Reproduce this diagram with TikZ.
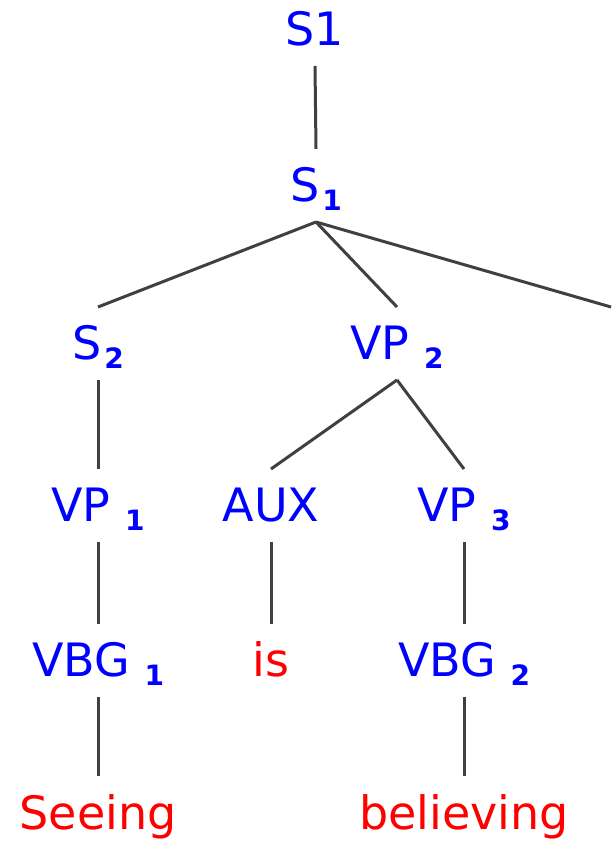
\documentclass[tikz,border=0pt]{standalone}
\usepackage{fontspec}
\setmainfont{DejaVu Sans}
\usepackage{tikz}

\newcommand{\idx}[1]{\raisebox{-9pt}{\fontsize{28}{30}\selectfont\bfseries #1}}

\begin{document}
\begin{tikzpicture}[x=1pt,y=1pt,
  cat/.style={text=catColor,anchor=base,inner sep=0pt,outer sep=20pt,
    text height=33pt,text depth=0pt,font=\fontsize{46}{50}\selectfont},
  word/.style={cat,text=wordColor},
  branch/.style={draw=drawColor,line width=3pt}]
\definecolor{catColor}{rgb}{0.00,0.00,1.00}
\definecolor{wordColor}{rgb}{1.00,0.00,0.00}
\definecolor{drawColor}{rgb}{0.25,0.25,0.25}
\path[use as bounding box] (0,0) rectangle (611,841);

\node[cat] (S1top) at (315,795) {S1};
\node[cat] (S1) at (316,639) {S\kern3pt\idx{1}};

\node[cat] (S2) at (98,481) {S\kern3pt\idx{2}};
\node[cat] (VP2) at (397,481) {VP \idx{2}};
\coordinate (rest) at (611,534);

\node[cat] (VP1) at (98,319) {VP \idx{1}};
\node[cat] (AUX) at (271,319) {AUX};
\node[cat] (VP3) at (464,319) {VP \idx{3}};

\node[cat] (VBG1) at (98,164) {VBG \idx{1}};
\node[word] (is) at (271,164) {is};
\node[cat] (VBG2) at (464,164) {VBG \idx{2}};

\node[word] (Seeing) at (98,12) {Seeing};
\node[word] (believing) at (464,12) {believing};

\draw[branch] (S1top.south) -- (S1.north);
\draw[branch] (S1.south) -- (S2.north);
\draw[branch] (S1.south) -- (VP2.north);
\draw[branch] (S1.south) -- (rest);
\draw[branch] (S2.south) -- (VP1.north);
\draw[branch] (VP2.south) -- (AUX.north);
\draw[branch] (VP2.south) -- (VP3.north);
\draw[branch] (VP1.south) -- (VBG1.north);
\draw[branch] (AUX.south) -- (is.north);
\draw[branch] (VP3.south) -- (VBG2.north);
\draw[branch] (VBG1.south) -- (Seeing.north);
\draw[branch] (VBG2.south) -- (believing.north);
\end{tikzpicture}
\end{document}
